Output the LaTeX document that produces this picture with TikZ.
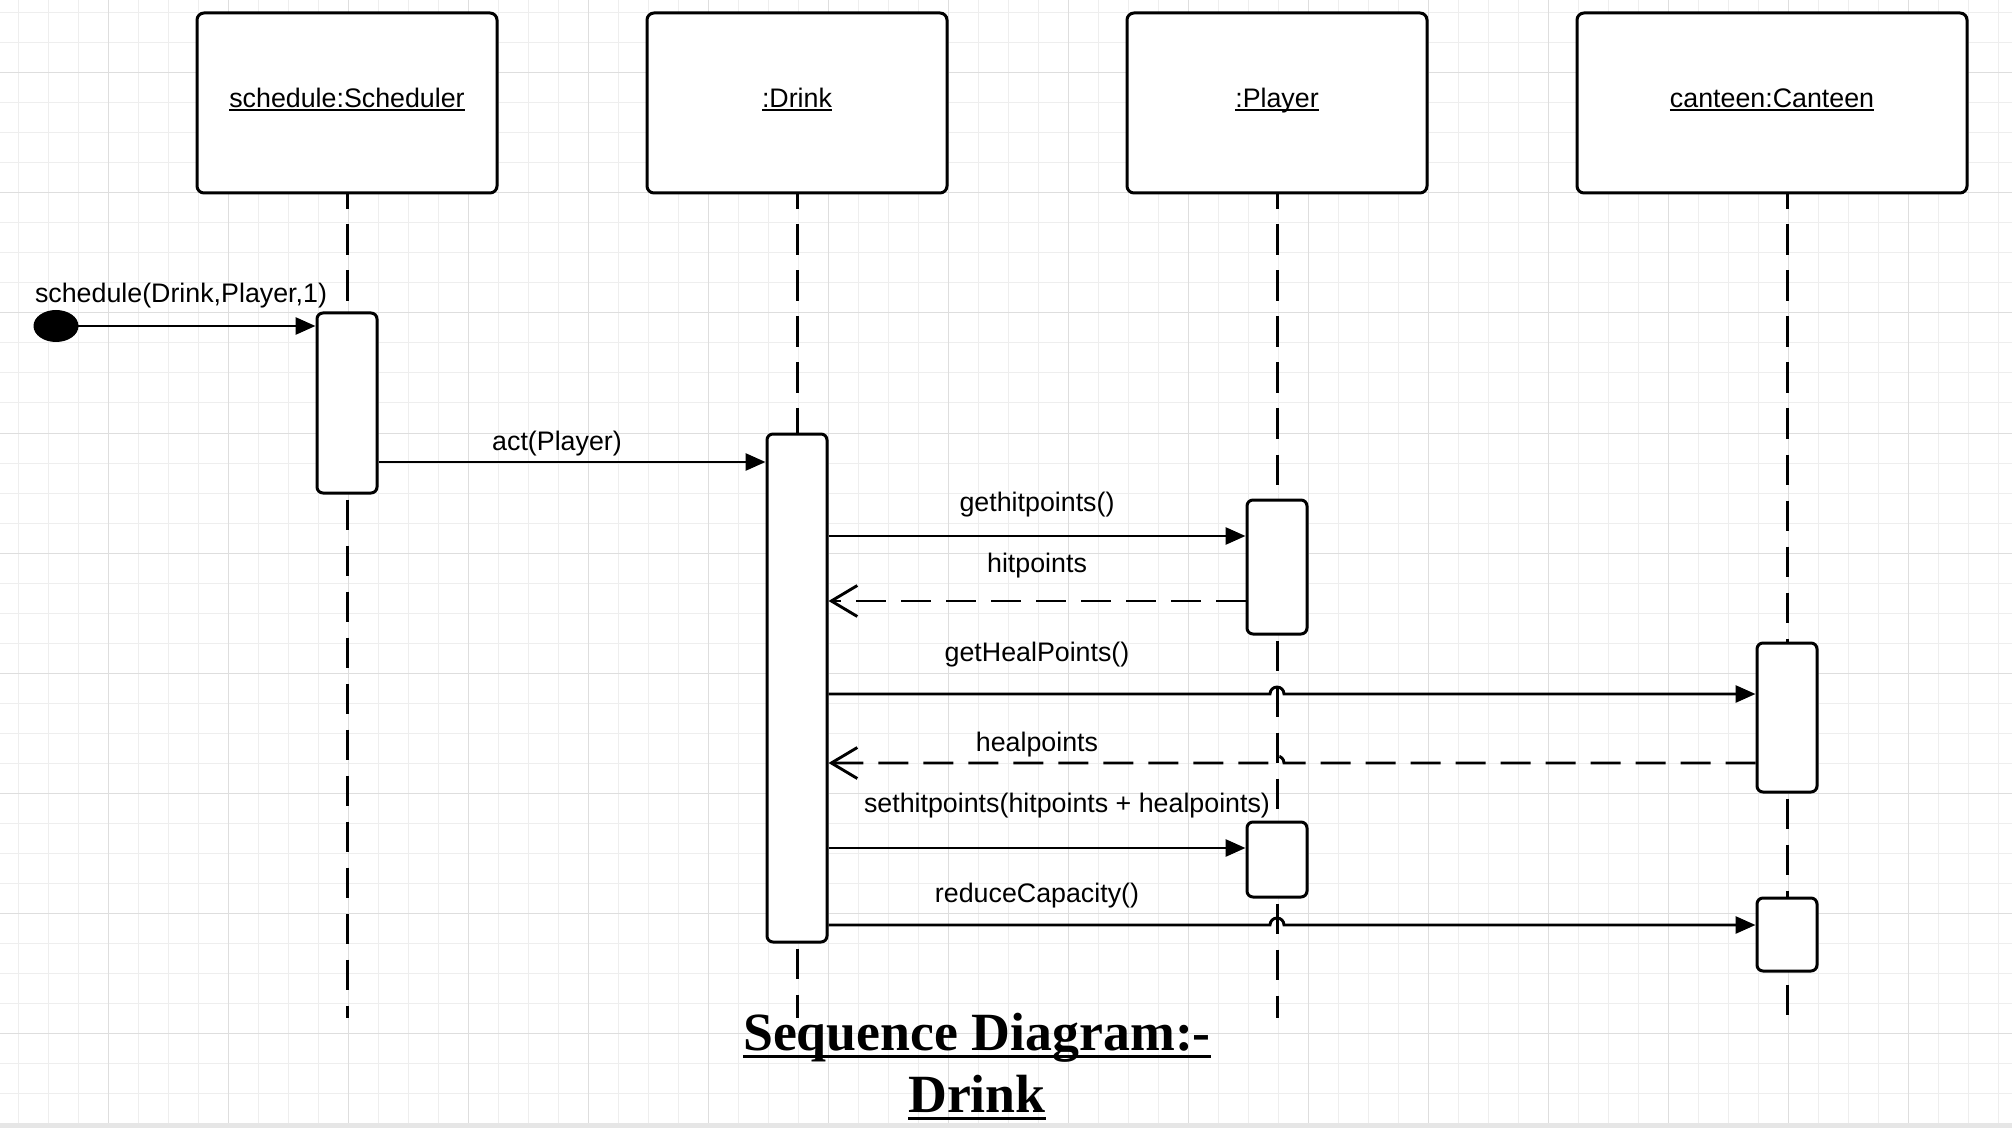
\documentclass[tikz,border=0pt]{standalone}
\usepackage{fontspec}
\setmainfont{Liberation Sans}
\newfontfamily\serifbold{Liberation Serif}
\usetikzlibrary{arrows.meta,shapes.geometric,calc}

% text with a rule under it: #1 = drop below baseline, #2 = rule thickness
\newcommand\ulinetext[3]{\setbox0=\hbox{#3}\rlap{\rule[-#1]{\wd0}{#2}}\box0}

\definecolor{gridminor}{RGB}{238,238,238}
\definecolor{gridmajor}{RGB}{222,222,222}
\definecolor{stripgray}{RGB}{230,230,230}

\tikzset{
  headbox/.style={draw, line width=1.5pt, rounded corners=3.5pt, fill=white,
    minimum width=150pt, minimum height=90pt, inner sep=0pt,
    font=\fontsize{13.4pt}{16pt}\selectfont, text height=9.8pt, text depth=5.1pt},
  actbox/.style={draw, line width=1.5pt, rounded corners=3pt, fill=white,
    minimum width=30pt, inner sep=0pt},
  lifeline/.style={line width=1.5pt, dash pattern=on 15.3pt off 7.7pt},
  msg/.style={line width=1.45pt, -{Triangle[length=10pt,width=8.5pt]}},
  ret/.style={line width=1.45pt, dash pattern=on 15pt off 7.5pt,
    -{Straight Barb[length=13pt,width=15.5pt]}},
  msglabel/.style={anchor=base, inner sep=0pt, font=\fontsize{13.4pt}{16pt}\selectfont},
  titletext/.style={anchor=base, inner sep=0pt,
    font=\serifbold\bfseries\fontsize{26.9pt}{31pt}\selectfont},
}

\begin{document}
\begin{tikzpicture}[x=0.5pt, y=-0.5pt]
\useasboundingbox (0,0) rectangle (2012,1128);
\fill[white] (0,0) rectangle (2012,1128);

% background grid
\foreach \k in {0,...,66}
  \draw[gridminor, line width=0.5pt] ({18+30*\k},0) -- ({18+30*\k},1128);
\foreach \k in {0,...,37}
  \draw[gridminor, line width=0.5pt] (0,{13+30*\k}) -- (2012,{13+30*\k});
\foreach \k in {0,...,15}
  \draw[gridmajor, line width=0.5pt] ({108+120*\k},0) -- ({108+120*\k},1128);
\foreach \k in {0,...,8}
  \draw[gridmajor, line width=0.5pt] (0,{73+120*\k}) -- (2012,{73+120*\k});
\fill[stripgray] (0,1123) rectangle (2012,1128);

% object heads
\node[headbox] (hS) at (347,103) {\ulinetext{1.5pt}{0.75pt}{schedule:Scheduler}};
\node[headbox] (hD) at (797,103) {\ulinetext{1.5pt}{0.75pt}{:Drink}};
\node[headbox] (hP) at (1277,103) {\ulinetext{1.5pt}{0.75pt}{:Player}};
\node[headbox, minimum width=195pt] (hC) at (1772,103) {\ulinetext{1.5pt}{0.75pt}{canteen:Canteen}};

% lifeline ends
\coordinate (endS) at (347,1018);
\coordinate (endD) at (797,1018);
\coordinate (endP) at (1277,1018);
\coordinate (endC) at (1787,1018);

% activation bars
\node[actbox, minimum height=90pt]   (actS)  at (347,403) {};
\node[actbox, minimum height=254pt]  (actD)  at (797,688) {};
\node[actbox, minimum height=67pt]   (actP1) at (1277,567) {};
\node[actbox, minimum height=74.5pt] (actC1) at (1787,717.5) {};
\node[actbox, minimum height=37.5pt] (actP2) at (1277,859.5) {};
\node[actbox, minimum height=36.5pt] (actC2) at (1787,934.5) {};

% lifelines
\draw[lifeline, dash phase=8pt]    (hS.south) -- (actS.north);
\draw[lifeline, dash phase=20.5pt] (actS.south) -- (endS);
\draw[lifeline, dash phase=8pt]    (hD.south) -- (actD.north);
\draw[lifeline, dash phase=20.5pt] (actD.south) -- (endD);
\draw[lifeline, dash phase=8pt]    (hP.south) -- (actP1.north);
\draw[lifeline, dash phase=20.5pt] (actP1.south) -- (actP2.north);
\draw[lifeline, dash phase=20.5pt] (actP2.south) -- (endP);
\draw[lifeline, dash phase=8pt]    (actC1.north |- hC.south) -- (actC1.north);
\draw[lifeline, dash phase=20.5pt] (actC1.south) -- (actC2.north);
\draw[lifeline, dash phase=17pt]   (actC2.south) -- (endC);

% found message start
\node[ellipse, fill=black, minimum width=22.5pt, minimum height=16pt, inner sep=0pt] (dot) at (56,326) {};

% messages
\draw[msg] (dot.center) -- (actS.west |- dot.center);
\draw[msg] (actS.east |- 0,462) -- (actD.west |- 0,462);
\draw[msg] (actD.east |- 0,536) -- (actP1.west |- 0,536);
\draw[ret] (actP1.west |- 0,601) -- (actD.east |- 0,601);
\draw[msg] (actD.east |- 0,694) -- ($(actP1.center |- 0,694)+(-7,0)$)
  arc[start angle=180, end angle=0, radius=3.5pt] -- (actC1.west |- 0,694);
\draw[ret] (actC1.west |- 0,763) -- ($(actP1.center |- 0,763)+(7,0)$)
  arc[start angle=0, end angle=180, radius=3.5pt] -- (actD.east |- 0,763);
\draw[msg] (actD.east |- 0,848) -- (actP2.west |- 0,848);
\draw[msg] (actD.east |- 0,925) -- ($(actP2.center |- 0,925)+(-7,0)$)
  arc[start angle=180, end angle=0, radius=3.5pt] -- (actC2.west |- 0,925);

% message labels
\node[msglabel] (l1) at (181,303)  {schedule(Drink,Player,1)};
\node[msglabel] (l2) at (557,451)  {act(Player)};
\node[msglabel] (l3) at (1037,511) {gethitpoints()};
\node[msglabel] (l4) at (1037,572) {hitpoints};
\node[msglabel] (l5) at (1037,661) {getHealPoints()};
\node[msglabel] (l6) at (1037,751) {healpoints};
\node[msglabel] (l7) at (1067,812) {sethitpoints(hitpoints + healpoints)};
\node[msglabel] (l8) at (1037,902) {reduceCapacity()};

% title
\node[titletext] (t1) at (977,1050) {\ulinetext{3.75pt}{1.5pt}{Sequence Diagram:-}};
\node[titletext] (t2) at (977,1112) {\ulinetext{3.75pt}{1.5pt}{Drink}};
\end{tikzpicture}
\end{document}
